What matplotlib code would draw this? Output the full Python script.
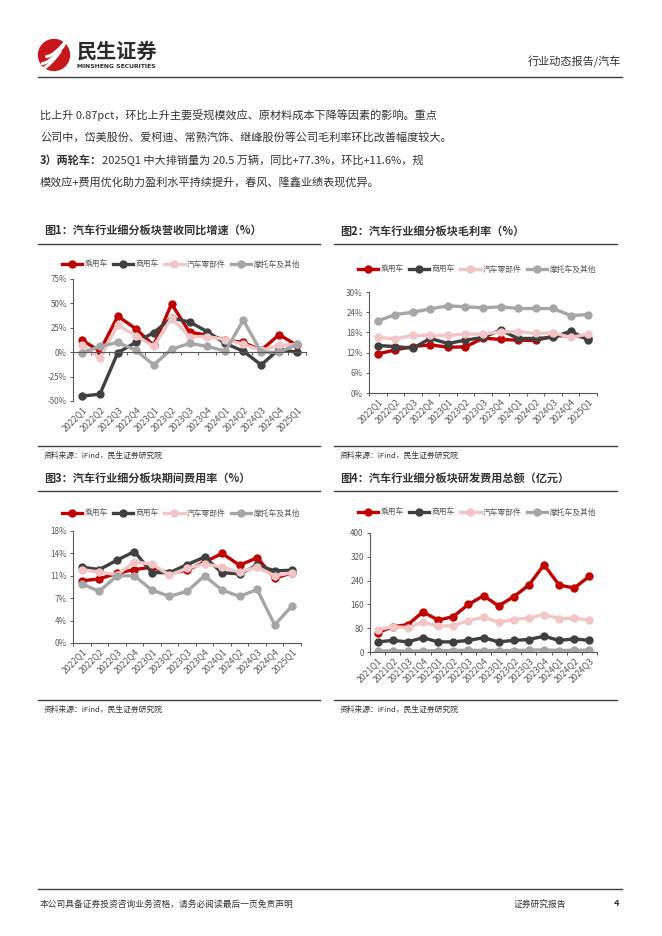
import numpy as np
import matplotlib.pyplot as plt
from matplotlib.lines import Line2D
from matplotlib.patches import Circle

plt.rcParams['font.family'] = ['Noto Sans CJK SC', 'DejaVu Sans']

W, H = 662, 936

def fx(x):
    return x / W

def fy(y):
    return 1 - y / H

# ---- data ----
series = ['乘用车', '商用车', '汽车零部件', '摩托车及其他']
colors = ['#C00000', '#404040', '#F2C6C6', '#A6A6A6']

q_22 = ['2022Q1', '2022Q2', '2022Q3', '2022Q4', '2023Q1', '2023Q2', '2023Q3',
        '2023Q4', '2024Q1', '2024Q2', '2024Q3', '2024Q4', '2025Q1']
q_21 = ['2021Q1', '2021Q2', '2021Q3', '2021Q4', '2022Q1', '2022Q2', '2022Q3',
        '2022Q4', '2023Q1', '2023Q2', '2023Q3', '2023Q4', '2024Q1', '2024Q2', '2024Q3']

# fig1 revenue yoy (%)
rev_passenger = [12.5, 1, 37, 24, 7, 49.5, 20.5, 17.5, 12.5, 10, 2, 18, 7]
rev_commercial = [-45, -43, -0.5, 10, 20, 35, 31, 21, 9, 1, -13, 3, 0]
rev_parts = [7, -6, 28, 17, 6, 35, 16, 16, 13, 8, 2, 7, 8]
rev_moto = [-1, 6, 10, 2, -13, 3, 9, 6, 1, 33, 0, 0, 8]

# fig2 gross margin (%)
gm_passenger = [11.6, 12.8, 13.8, 14.3, 13.6, 13.7, 16.3, 15.9, 15.7, 15.6, 16.9, 17.1, 16.4]
gm_commercial = [14.1, 13.8, 13.3, 16.2, 14.7, 15.7, 16.5, 18.7, 16.2, 16.2, 16.5, 18.4, 15.7]
gm_parts = [16.5, 16.1, 17.1, 17.1, 17.1, 17.5, 17.5, 18.2, 18.2, 17.7, 17.9, 16.5, 17.5]
gm_moto = [21.4, 23.3, 24.0, 25.0, 25.9, 25.6, 25.3, 25.6, 25.1, 25.1, 25.1, 23.0, 23.3]

# fig3 expense ratio (%)
ex_passenger = [10.0, 10.3, 11.2, 11.8, 12.2, 11.2, 11.7, 13.0, 14.4, 12.5, 13.7, 10.4, 11.3]
ex_commercial = [12.2, 11.8, 13.3, 14.7, 11.3, 11.3, 12.6, 13.8, 11.3, 11.1, 12.5, 11.6, 11.7]
ex_parts = [11.8, 11.4, 11.0, 13.0, 12.7, 10.9, 12.0, 12.7, 12.2, 11.4, 12.2, 10.8, 11.3]
ex_moto = [9.5, 8.3, 10.8, 10.8, 8.5, 7.5, 8.3, 10.8, 8.5, 7.5, 8.6, 2.9, 6.0]

# fig4 R&D expense (100m yuan)
rd_passenger = [65, 85, 92, 135, 107, 119, 160, 189, 155, 186, 225, 293, 225, 215, 255]
rd_commercial = [34, 39, 34, 48, 34, 34, 39, 48, 34, 39, 42, 53, 39, 44, 39]
rd_parts = [75, 85, 82, 101, 87, 89, 105, 117, 100, 109, 114, 126, 112, 114, 107]
rd_moto = [3, 4, 3, 4, 4, 5, 6, 5, 5, 5, 6, 7, 5, 6, 6]

fig = plt.figure(figsize=(W / 100, H / 100), dpi=100)
bg = fig.add_axes([0, 0, 1, 1])
bg.axis('off')
bg.set_xlim(0, 1)
bg.set_ylim(0, 1)

text_c = '#333333'
axis_c = '#595959'


def hline(x0, x1, y, lw=1.0, c='#404040'):
    fig.add_artist(Line2D([fx(x0), fx(x1)], [fy(y), fy(y)], color=c, lw=lw,
                          transform=fig.transFigure))


# ---- header ----
logo = fig.add_axes([fx(36), fy(72), 36 / W, 34 / H])
logo.set_xlim(-1.1, 1.1)
logo.set_ylim(-1.1, 1.1)
logo.set_aspect('equal')
logo.axis('off')
logo.add_patch(Circle((0, 0), 1.0, color='#C8161D'))
t = np.linspace(0, 1, 40)
for off in [-0.45, 0.0, 0.45]:
    xs = -0.75 + 1.4 * t + off * 0.6
    ys = -0.55 + 1.2 * t ** 1.6 + off
    logo.plot(xs, ys, color='white', lw=2.2, solid_capstyle='round')

fig.text(fx(77), fy(51), '民生证券', fontsize=14.5, fontweight='bold', color='#2b2b2b',
         va='center', ha='left')
fig.text(fx(77), fy(66), 'MINSHENG SECURITIES', fontsize=4.4, fontweight='bold',
         color='#2b2b2b', va='center', ha='left', family='DejaVu Sans')
fig.text(fx(621), fy(62), '行业动态报告/汽车', fontsize=8, color=text_c, va='center', ha='right')
hline(38, 622, 77, lw=1.0)

# ---- body text ----
body_fs = 8
fig.text(fx(40), fy(115), '比上升 0.87pct，环比上升主要受规模效应、原材料成本下降等因素的影响。重点',
         fontsize=body_fs, color=text_c, va='center')
fig.text(fx(40), fy(138), '公司中，岱美股份、爱柯迪、常熟汽饰、继峰股份等公司毛利率环比改善幅度较大。',
         fontsize=body_fs, color=text_c, va='center')
tb = fig.text(fx(40), fy(160), '3）两轮车：', fontsize=body_fs, color=text_c, va='center',
              fontweight='bold')
bg.annotate('2025Q1 中大排销量为 20.5 万辆，同比+77.3%，环比+11.6%，规',
            xy=(1, 0.5), xycoords=tb, va='center', ha='left', fontsize=body_fs, color=text_c)
fig.text(fx(40), fy(182), '模效应+费用优化助力盈利水平持续提升，春风、隆鑫业绩表现优异。',
         fontsize=body_fs, color=text_c, va='center')

# ---- chart frames ----
titles = [('图1：汽车行业细分板块营收同比增速（%）', 44, 231),
          ('图2：汽车行业细分板块毛利率（%）', 340, 231),
          ('图3：汽车行业细分板块期间费用率（%）', 44, 478),
          ('图4：汽车行业细分板块研发费用总额（亿元）', 340, 478)]
for txt, x, y in titles:
    fig.text(fx(x), fy(y), txt, fontsize=8, fontweight='bold', color=text_c, va='center')
for y in [244, 491]:
    hline(38, 320, y)
    hline(334, 617, y)
for y, ty in [(446, 456), (700, 710)]:
    hline(38, 320, y)
    hline(334, 617, y)
    fig.text(fx(44), fy(ty), '资料来源：iFind，民生证券研究院', fontsize=5.6, color=text_c, va='center')
    fig.text(fx(340), fy(ty), '资料来源：iFind，民生证券研究院', fontsize=5.6, color=text_c, va='center')

# ---- footer ----
hline(38, 622, 889)
fig.text(fx(40), fy(904), '本公司具备证券投资咨询业务资格，请务必阅读最后一页免责声明',
         fontsize=6.3, color=text_c, va='center')
fig.text(fx(514), fy(904), '证券研究报告', fontsize=6.3, color=text_c, va='center')
fig.text(fx(614), fy(904), '4', fontsize=6.5, color=text_c, va='center', fontweight='bold')


def chart(box, cats, data, ylim, step, fmt, leg_xy):
    l, t, r, b = box
    ax = fig.add_axes([fx(l), fy(b), (r - l) / W, (b - t) / H])
    x = np.arange(len(cats))
    for vals, c, name in zip(data, colors, series):
        ax.plot(x, vals, color=c, lw=2.4, marker='o', ms=5, label=name,
                solid_joinstyle='round')
    ax.set_xlim(-0.5, len(cats) - 0.5)
    ax.set_ylim(*ylim)
    yt = np.arange(ylim[0], ylim[1] + step / 2, step)
    ax.set_yticks(yt)
    ax.set_yticklabels([fmt(v) for v in yt])
    for s in ['top', 'right']:
        ax.spines[s].set_visible(False)
    for s in ['left', 'bottom']:
        ax.spines[s].set_color(axis_c)
        ax.spines[s].set_linewidth(0.8)
    ax.tick_params(axis='y', length=2.5, width=0.7, color=axis_c, labelsize=5.8,
                   labelcolor=axis_c, pad=2)
    # category boundary ticks on the value-0 line
    ax.spines['bottom'].set_position(('data', 0))
    ax.set_xticks(x)
    ax.tick_params(axis='x', which='major', length=0, labelbottom=False)
    ax.set_xticks(np.arange(len(cats) + 1) - 0.5, minor=True)
    ax.tick_params(axis='x', which='minor', length=2.5, width=0.7, color=axis_c)
    # labels at the bottom of the plot area
    sec = ax.secondary_xaxis('bottom')
    sec.spines['bottom'].set_visible(False)
    sec.set_xticks(x)
    sec.set_xticklabels(cats, rotation=45, ha='right', va='top', rotation_mode='anchor')
    sec.tick_params(length=0, labelsize=6.3, labelcolor=axis_c, pad=3)
    ax.legend(loc='center', bbox_to_anchor=(fx(leg_xy[0]), fy(leg_xy[1])),
              bbox_transform=fig.transFigure, ncol=4, frameon=False, fontsize=5.6,
              labelcolor=axis_c, handlelength=2.6, handletextpad=0.3,
              columnspacing=0.7, borderaxespad=0, borderpad=0)
    return ax


pct = lambda v: f'{v:.0f}%'
chart((73, 279, 306, 401), q_22, [rev_passenger, rev_commercial, rev_parts, rev_moto],
      (-50, 75), 25, pct, (181, 265))
chart((369, 292, 597, 393), q_22, [gm_passenger, gm_commercial, gm_parts, gm_moto],
      (0, 30), 6, pct, (477, 270))
chart((73, 531, 301, 643), q_22, [ex_passenger, ex_commercial, ex_parts, ex_moto],
      (0, 18), 3.6, pct, (181, 514))
chart((370, 533, 597, 652), q_21, [rd_passenger, rd_commercial, rd_parts, rd_moto],
      (0, 400), 80, lambda v: f'{v:.0f}', (477, 513))

fig.savefig('out.png', dpi=100)
